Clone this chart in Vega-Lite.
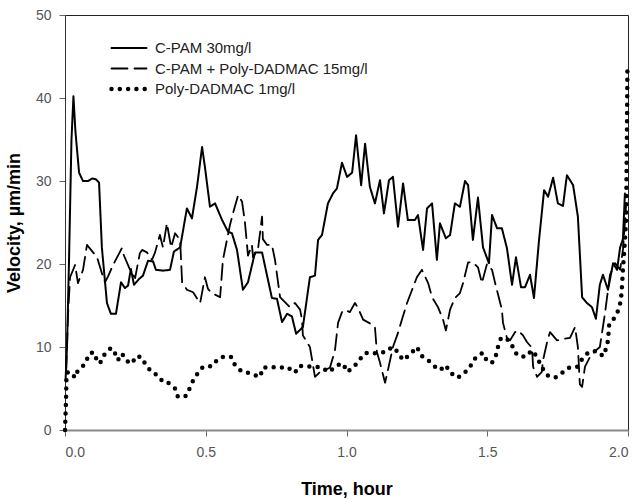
{
  "$schema": "https://vega.github.io/schema/vega-lite/v6.json",
  "width": 563,
  "height": 415,
  "autosize": {"type": "none"},
  "padding": {"left": 65, "top": 15, "right": 10, "bottom": 72},
  "background": "white",
  "config": {
    "view": {"stroke": "#222", "strokeWidth": 1},
    "font": "Liberation Sans",
    "axis": {
      "grid": false,
      "labelFont": "Liberation Sans",
      "labelFontSize": 14,
      "labelColor": "#555",
      "tickColor": "#666",
      "tickSize": 6,
      "titleFont": "Liberation Sans",
      "titleFontSize": 18,
      "titleFontWeight": "bold",
      "titleColor": "#000"
    }
  },
  "datasets": {
    "curves": [
      {"series": "C-PAM 30mg/l", "t": 0.002, "v": 6},
      {"series": "C-PAM 30mg/l", "t": 0.007, "v": 10},
      {"series": "C-PAM 30mg/l", "t": 0.014, "v": 20},
      {"series": "C-PAM 30mg/l", "t": 0.023, "v": 35},
      {"series": "C-PAM 30mg/l", "t": 0.030, "v": 40.2},
      {"series": "C-PAM 30mg/l", "t": 0.037, "v": 36},
      {"series": "C-PAM 30mg/l", "t": 0.050, "v": 31},
      {"series": "C-PAM 30mg/l", "t": 0.064, "v": 30},
      {"series": "C-PAM 30mg/l", "t": 0.082, "v": 30},
      {"series": "C-PAM 30mg/l", "t": 0.096, "v": 30.3},
      {"series": "C-PAM 30mg/l", "t": 0.110, "v": 30.2},
      {"series": "C-PAM 30mg/l", "t": 0.121, "v": 29.8},
      {"series": "C-PAM 30mg/l", "t": 0.131, "v": 22},
      {"series": "C-PAM 30mg/l", "t": 0.149, "v": 15.3},
      {"series": "C-PAM 30mg/l", "t": 0.163, "v": 14},
      {"series": "C-PAM 30mg/l", "t": 0.181, "v": 14},
      {"series": "C-PAM 30mg/l", "t": 0.199, "v": 17.8},
      {"series": "C-PAM 30mg/l", "t": 0.213, "v": 17.1},
      {"series": "C-PAM 30mg/l", "t": 0.224, "v": 17.4},
      {"series": "C-PAM 30mg/l", "t": 0.234, "v": 19.4},
      {"series": "C-PAM 30mg/l", "t": 0.245, "v": 17.5},
      {"series": "C-PAM 30mg/l", "t": 0.263, "v": 18.2},
      {"series": "C-PAM 30mg/l", "t": 0.277, "v": 18.6},
      {"series": "C-PAM 30mg/l", "t": 0.295, "v": 20.4},
      {"series": "C-PAM 30mg/l", "t": 0.313, "v": 20.3},
      {"series": "C-PAM 30mg/l", "t": 0.323, "v": 19.3},
      {"series": "C-PAM 30mg/l", "t": 0.348, "v": 19.2},
      {"series": "C-PAM 30mg/l", "t": 0.373, "v": 19.3},
      {"series": "C-PAM 30mg/l", "t": 0.387, "v": 21.5},
      {"series": "C-PAM 30mg/l", "t": 0.409, "v": 22},
      {"series": "C-PAM 30mg/l", "t": 0.433, "v": 26.7},
      {"series": "C-PAM 30mg/l", "t": 0.451, "v": 25.5},
      {"series": "C-PAM 30mg/l", "t": 0.469, "v": 29.3},
      {"series": "C-PAM 30mg/l", "t": 0.487, "v": 34.1},
      {"series": "C-PAM 30mg/l", "t": 0.497, "v": 31.7},
      {"series": "C-PAM 30mg/l", "t": 0.515, "v": 26.9},
      {"series": "C-PAM 30mg/l", "t": 0.533, "v": 27.3},
      {"series": "C-PAM 30mg/l", "t": 0.558, "v": 25.3},
      {"series": "C-PAM 30mg/l", "t": 0.579, "v": 23.9},
      {"series": "C-PAM 30mg/l", "t": 0.593, "v": 23.7},
      {"series": "C-PAM 30mg/l", "t": 0.611, "v": 21.7},
      {"series": "C-PAM 30mg/l", "t": 0.632, "v": 16.9},
      {"series": "C-PAM 30mg/l", "t": 0.650, "v": 17.8},
      {"series": "C-PAM 30mg/l", "t": 0.675, "v": 21.4},
      {"series": "C-PAM 30mg/l", "t": 0.700, "v": 21.4},
      {"series": "C-PAM 30mg/l", "t": 0.735, "v": 15.9},
      {"series": "C-PAM 30mg/l", "t": 0.753, "v": 15.8},
      {"series": "C-PAM 30mg/l", "t": 0.771, "v": 13.0},
      {"series": "C-PAM 30mg/l", "t": 0.789, "v": 14.0},
      {"series": "C-PAM 30mg/l", "t": 0.806, "v": 13.7},
      {"series": "C-PAM 30mg/l", "t": 0.821, "v": 11.6},
      {"series": "C-PAM 30mg/l", "t": 0.845, "v": 12.4},
      {"series": "C-PAM 30mg/l", "t": 0.870, "v": 18.4},
      {"series": "C-PAM 30mg/l", "t": 0.888, "v": 18.6},
      {"series": "C-PAM 30mg/l", "t": 0.899, "v": 22.9},
      {"series": "C-PAM 30mg/l", "t": 0.913, "v": 23.5},
      {"series": "C-PAM 30mg/l", "t": 0.934, "v": 27.3},
      {"series": "C-PAM 30mg/l", "t": 0.952, "v": 28.5},
      {"series": "C-PAM 30mg/l", "t": 0.966, "v": 29.1},
      {"series": "C-PAM 30mg/l", "t": 0.984, "v": 32.2},
      {"series": "C-PAM 30mg/l", "t": 1.002, "v": 30.5},
      {"series": "C-PAM 30mg/l", "t": 1.020, "v": 31.0},
      {"series": "C-PAM 30mg/l", "t": 1.034, "v": 35.5},
      {"series": "C-PAM 30mg/l", "t": 1.052, "v": 29.5},
      {"series": "C-PAM 30mg/l", "t": 1.066, "v": 34.5},
      {"series": "C-PAM 30mg/l", "t": 1.083, "v": 29.3},
      {"series": "C-PAM 30mg/l", "t": 1.101, "v": 27.3},
      {"series": "C-PAM 30mg/l", "t": 1.119, "v": 30.1},
      {"series": "C-PAM 30mg/l", "t": 1.133, "v": 26.1},
      {"series": "C-PAM 30mg/l", "t": 1.151, "v": 30.1},
      {"series": "C-PAM 30mg/l", "t": 1.165, "v": 30.5},
      {"series": "C-PAM 30mg/l", "t": 1.183, "v": 24.5},
      {"series": "C-PAM 30mg/l", "t": 1.201, "v": 29.7},
      {"series": "C-PAM 30mg/l", "t": 1.218, "v": 25.3},
      {"series": "C-PAM 30mg/l", "t": 1.243, "v": 25.3},
      {"series": "C-PAM 30mg/l", "t": 1.254, "v": 25.9},
      {"series": "C-PAM 30mg/l", "t": 1.272, "v": 21.7},
      {"series": "C-PAM 30mg/l", "t": 1.286, "v": 26.7},
      {"series": "C-PAM 30mg/l", "t": 1.304, "v": 27.3},
      {"series": "C-PAM 30mg/l", "t": 1.321, "v": 20.5},
      {"series": "C-PAM 30mg/l", "t": 1.332, "v": 24.9},
      {"series": "C-PAM 30mg/l", "t": 1.353, "v": 23.1},
      {"series": "C-PAM 30mg/l", "t": 1.368, "v": 23.5},
      {"series": "C-PAM 30mg/l", "t": 1.385, "v": 27.3},
      {"series": "C-PAM 30mg/l", "t": 1.403, "v": 26.9},
      {"series": "C-PAM 30mg/l", "t": 1.421, "v": 30.0},
      {"series": "C-PAM 30mg/l", "t": 1.432, "v": 29.5},
      {"series": "C-PAM 30mg/l", "t": 1.449, "v": 22.9},
      {"series": "C-PAM 30mg/l", "t": 1.467, "v": 28.0},
      {"series": "C-PAM 30mg/l", "t": 1.485, "v": 22.0},
      {"series": "C-PAM 30mg/l", "t": 1.506, "v": 20.1},
      {"series": "C-PAM 30mg/l", "t": 1.517, "v": 25.9},
      {"series": "C-PAM 30mg/l", "t": 1.535, "v": 24.3},
      {"series": "C-PAM 30mg/l", "t": 1.552, "v": 24.3},
      {"series": "C-PAM 30mg/l", "t": 1.570, "v": 21.9},
      {"series": "C-PAM 30mg/l", "t": 1.588, "v": 17.5},
      {"series": "C-PAM 30mg/l", "t": 1.602, "v": 20.8},
      {"series": "C-PAM 30mg/l", "t": 1.620, "v": 17.2},
      {"series": "C-PAM 30mg/l", "t": 1.634, "v": 17.2},
      {"series": "C-PAM 30mg/l", "t": 1.652, "v": 18.7},
      {"series": "C-PAM 30mg/l", "t": 1.666, "v": 15.9},
      {"series": "C-PAM 30mg/l", "t": 1.684, "v": 22.9},
      {"series": "C-PAM 30mg/l", "t": 1.702, "v": 28.9},
      {"series": "C-PAM 30mg/l", "t": 1.716, "v": 28.1},
      {"series": "C-PAM 30mg/l", "t": 1.734, "v": 30.4},
      {"series": "C-PAM 30mg/l", "t": 1.751, "v": 27.3},
      {"series": "C-PAM 30mg/l", "t": 1.769, "v": 27.0},
      {"series": "C-PAM 30mg/l", "t": 1.783, "v": 30.7},
      {"series": "C-PAM 30mg/l", "t": 1.805, "v": 29.5},
      {"series": "C-PAM 30mg/l", "t": 1.822, "v": 25.7},
      {"series": "C-PAM 30mg/l", "t": 1.837, "v": 16.0},
      {"series": "C-PAM 30mg/l", "t": 1.854, "v": 15.3},
      {"series": "C-PAM 30mg/l", "t": 1.872, "v": 14.8},
      {"series": "C-PAM 30mg/l", "t": 1.886, "v": 13.4},
      {"series": "C-PAM 30mg/l", "t": 1.900, "v": 17.5},
      {"series": "C-PAM 30mg/l", "t": 1.911, "v": 18.7},
      {"series": "C-PAM 30mg/l", "t": 1.929, "v": 16.9},
      {"series": "C-PAM 30mg/l", "t": 1.947, "v": 20.1},
      {"series": "C-PAM 30mg/l", "t": 1.961, "v": 19.3},
      {"series": "C-PAM 30mg/l", "t": 1.972, "v": 22.0},
      {"series": "C-PAM 30mg/l", "t": 1.982, "v": 23.0},
      {"series": "C-PAM 30mg/l", "t": 1.989, "v": 28.5},

      {"series": "C-PAM + Poly-DADMAC 15mg/l", "t": 0.004, "v": 7},
      {"series": "C-PAM + Poly-DADMAC 15mg/l", "t": 0.011, "v": 14},
      {"series": "C-PAM + Poly-DADMAC 15mg/l", "t": 0.018, "v": 18.4},
      {"series": "C-PAM + Poly-DADMAC 15mg/l", "t": 0.036, "v": 19.9},
      {"series": "C-PAM + Poly-DADMAC 15mg/l", "t": 0.046, "v": 17.7},
      {"series": "C-PAM + Poly-DADMAC 15mg/l", "t": 0.064, "v": 19.3},
      {"series": "C-PAM + Poly-DADMAC 15mg/l", "t": 0.078, "v": 22.3},
      {"series": "C-PAM + Poly-DADMAC 15mg/l", "t": 0.114, "v": 20.8},
      {"series": "C-PAM + Poly-DADMAC 15mg/l", "t": 0.131, "v": 18.9},
      {"series": "C-PAM + Poly-DADMAC 15mg/l", "t": 0.142, "v": 17.8},
      {"series": "C-PAM + Poly-DADMAC 15mg/l", "t": 0.153, "v": 18.5},
      {"series": "C-PAM + Poly-DADMAC 15mg/l", "t": 0.171, "v": 19.9},
      {"series": "C-PAM + Poly-DADMAC 15mg/l", "t": 0.202, "v": 21.9},
      {"series": "C-PAM + Poly-DADMAC 15mg/l", "t": 0.206, "v": 21.3},
      {"series": "C-PAM + Poly-DADMAC 15mg/l", "t": 0.231, "v": 19.3},
      {"series": "C-PAM + Poly-DADMAC 15mg/l", "t": 0.249, "v": 18.3},
      {"series": "C-PAM + Poly-DADMAC 15mg/l", "t": 0.266, "v": 21.3},
      {"series": "C-PAM + Poly-DADMAC 15mg/l", "t": 0.274, "v": 21.7},
      {"series": "C-PAM + Poly-DADMAC 15mg/l", "t": 0.291, "v": 21.4},
      {"series": "C-PAM + Poly-DADMAC 15mg/l", "t": 0.309, "v": 20.5},
      {"series": "C-PAM + Poly-DADMAC 15mg/l", "t": 0.320, "v": 21.4},
      {"series": "C-PAM + Poly-DADMAC 15mg/l", "t": 0.337, "v": 23.5},
      {"series": "C-PAM + Poly-DADMAC 15mg/l", "t": 0.348, "v": 22.0},
      {"series": "C-PAM + Poly-DADMAC 15mg/l", "t": 0.362, "v": 24.9},
      {"series": "C-PAM + Poly-DADMAC 15mg/l", "t": 0.377, "v": 22.0},
      {"series": "C-PAM + Poly-DADMAC 15mg/l", "t": 0.391, "v": 23.7},
      {"series": "C-PAM + Poly-DADMAC 15mg/l", "t": 0.409, "v": 22.9},
      {"series": "C-PAM + Poly-DADMAC 15mg/l", "t": 0.416, "v": 17.8},
      {"series": "C-PAM + Poly-DADMAC 15mg/l", "t": 0.433, "v": 16.9},
      {"series": "C-PAM + Poly-DADMAC 15mg/l", "t": 0.455, "v": 16.6},
      {"series": "C-PAM + Poly-DADMAC 15mg/l", "t": 0.480, "v": 15.3},
      {"series": "C-PAM + Poly-DADMAC 15mg/l", "t": 0.497, "v": 18.4},
      {"series": "C-PAM + Poly-DADMAC 15mg/l", "t": 0.508, "v": 17.0},
      {"series": "C-PAM + Poly-DADMAC 15mg/l", "t": 0.522, "v": 16.5},
      {"series": "C-PAM + Poly-DADMAC 15mg/l", "t": 0.551, "v": 16.0},
      {"series": "C-PAM + Poly-DADMAC 15mg/l", "t": 0.561, "v": 20.5},
      {"series": "C-PAM + Poly-DADMAC 15mg/l", "t": 0.586, "v": 24.7},
      {"series": "C-PAM + Poly-DADMAC 15mg/l", "t": 0.600, "v": 26.5},
      {"series": "C-PAM + Poly-DADMAC 15mg/l", "t": 0.615, "v": 28.3},
      {"series": "C-PAM + Poly-DADMAC 15mg/l", "t": 0.629, "v": 27.5},
      {"series": "C-PAM + Poly-DADMAC 15mg/l", "t": 0.639, "v": 25.1},
      {"series": "C-PAM + Poly-DADMAC 15mg/l", "t": 0.650, "v": 21.0},
      {"series": "C-PAM + Poly-DADMAC 15mg/l", "t": 0.664, "v": 22.3},
      {"series": "C-PAM + Poly-DADMAC 15mg/l", "t": 0.668, "v": 20.8},
      {"series": "C-PAM + Poly-DADMAC 15mg/l", "t": 0.686, "v": 21.9},
      {"series": "C-PAM + Poly-DADMAC 15mg/l", "t": 0.700, "v": 25.7},
      {"series": "C-PAM + Poly-DADMAC 15mg/l", "t": 0.703, "v": 23.0},
      {"series": "C-PAM + Poly-DADMAC 15mg/l", "t": 0.718, "v": 22.3},
      {"series": "C-PAM + Poly-DADMAC 15mg/l", "t": 0.735, "v": 22.3},
      {"series": "C-PAM + Poly-DADMAC 15mg/l", "t": 0.746, "v": 20.5},
      {"series": "C-PAM + Poly-DADMAC 15mg/l", "t": 0.764, "v": 16.0},
      {"series": "C-PAM + Poly-DADMAC 15mg/l", "t": 0.799, "v": 14.8},
      {"series": "C-PAM + Poly-DADMAC 15mg/l", "t": 0.817, "v": 15.3},
      {"series": "C-PAM + Poly-DADMAC 15mg/l", "t": 0.835, "v": 14.5},
      {"series": "C-PAM + Poly-DADMAC 15mg/l", "t": 0.842, "v": 13.3},
      {"series": "C-PAM + Poly-DADMAC 15mg/l", "t": 0.845, "v": 11.4},
      {"series": "C-PAM + Poly-DADMAC 15mg/l", "t": 0.870, "v": 10.0},
      {"series": "C-PAM + Poly-DADMAC 15mg/l", "t": 0.888, "v": 6.4},
      {"series": "C-PAM + Poly-DADMAC 15mg/l", "t": 0.906, "v": 7.0},
      {"series": "C-PAM + Poly-DADMAC 15mg/l", "t": 0.941, "v": 7.5},
      {"series": "C-PAM + Poly-DADMAC 15mg/l", "t": 0.959, "v": 9.6},
      {"series": "C-PAM + Poly-DADMAC 15mg/l", "t": 0.970, "v": 12.9},
      {"series": "C-PAM + Poly-DADMAC 15mg/l", "t": 0.984, "v": 14.2},
      {"series": "C-PAM + Poly-DADMAC 15mg/l", "t": 0.995, "v": 14.5},
      {"series": "C-PAM + Poly-DADMAC 15mg/l", "t": 1.012, "v": 14.2},
      {"series": "C-PAM + Poly-DADMAC 15mg/l", "t": 1.030, "v": 15.3},
      {"series": "C-PAM + Poly-DADMAC 15mg/l", "t": 1.041, "v": 14.7},
      {"series": "C-PAM + Poly-DADMAC 15mg/l", "t": 1.059, "v": 13.3},
      {"series": "C-PAM + Poly-DADMAC 15mg/l", "t": 1.091, "v": 12.7},
      {"series": "C-PAM + Poly-DADMAC 15mg/l", "t": 1.101, "v": 12.4},
      {"series": "C-PAM + Poly-DADMAC 15mg/l", "t": 1.108, "v": 9.4},
      {"series": "C-PAM + Poly-DADMAC 15mg/l", "t": 1.119, "v": 8.1},
      {"series": "C-PAM + Poly-DADMAC 15mg/l", "t": 1.137, "v": 5.7},
      {"series": "C-PAM + Poly-DADMAC 15mg/l", "t": 1.147, "v": 7.2},
      {"series": "C-PAM + Poly-DADMAC 15mg/l", "t": 1.165, "v": 10.0},
      {"series": "C-PAM + Poly-DADMAC 15mg/l", "t": 1.183, "v": 11.7},
      {"series": "C-PAM + Poly-DADMAC 15mg/l", "t": 1.197, "v": 13.3},
      {"series": "C-PAM + Poly-DADMAC 15mg/l", "t": 1.215, "v": 15.3},
      {"series": "C-PAM + Poly-DADMAC 15mg/l", "t": 1.233, "v": 16.9},
      {"series": "C-PAM + Poly-DADMAC 15mg/l", "t": 1.250, "v": 18.4},
      {"series": "C-PAM + Poly-DADMAC 15mg/l", "t": 1.268, "v": 19.3},
      {"series": "C-PAM + Poly-DADMAC 15mg/l", "t": 1.290, "v": 17.7},
      {"series": "C-PAM + Poly-DADMAC 15mg/l", "t": 1.304, "v": 16.0},
      {"series": "C-PAM + Poly-DADMAC 15mg/l", "t": 1.325, "v": 14.8},
      {"series": "C-PAM + Poly-DADMAC 15mg/l", "t": 1.343, "v": 13.3},
      {"series": "C-PAM + Poly-DADMAC 15mg/l", "t": 1.353, "v": 12.0},
      {"series": "C-PAM + Poly-DADMAC 15mg/l", "t": 1.368, "v": 14.5},
      {"series": "C-PAM + Poly-DADMAC 15mg/l", "t": 1.385, "v": 15.9},
      {"series": "C-PAM + Poly-DADMAC 15mg/l", "t": 1.403, "v": 16.5},
      {"series": "C-PAM + Poly-DADMAC 15mg/l", "t": 1.414, "v": 17.7},
      {"series": "C-PAM + Poly-DADMAC 15mg/l", "t": 1.432, "v": 20.2},
      {"series": "C-PAM + Poly-DADMAC 15mg/l", "t": 1.449, "v": 20.2},
      {"series": "C-PAM + Poly-DADMAC 15mg/l", "t": 1.467, "v": 19.6},
      {"series": "C-PAM + Poly-DADMAC 15mg/l", "t": 1.481, "v": 17.7},
      {"series": "C-PAM + Poly-DADMAC 15mg/l", "t": 1.499, "v": 20.0},
      {"series": "C-PAM + Poly-DADMAC 15mg/l", "t": 1.517, "v": 19.3},
      {"series": "C-PAM + Poly-DADMAC 15mg/l", "t": 1.528, "v": 17.7},
      {"series": "C-PAM + Poly-DADMAC 15mg/l", "t": 1.552, "v": 14.5},
      {"series": "C-PAM + Poly-DADMAC 15mg/l", "t": 1.556, "v": 12.9},
      {"series": "C-PAM + Poly-DADMAC 15mg/l", "t": 1.570, "v": 11.1},
      {"series": "C-PAM + Poly-DADMAC 15mg/l", "t": 1.581, "v": 10.8},
      {"series": "C-PAM + Poly-DADMAC 15mg/l", "t": 1.599, "v": 11.8},
      {"series": "C-PAM + Poly-DADMAC 15mg/l", "t": 1.609, "v": 12.0},
      {"series": "C-PAM + Poly-DADMAC 15mg/l", "t": 1.627, "v": 11.4},
      {"series": "C-PAM + Poly-DADMAC 15mg/l", "t": 1.641, "v": 10.6},
      {"series": "C-PAM + Poly-DADMAC 15mg/l", "t": 1.659, "v": 9.9},
      {"series": "C-PAM + Poly-DADMAC 15mg/l", "t": 1.663, "v": 7.6},
      {"series": "C-PAM + Poly-DADMAC 15mg/l", "t": 1.677, "v": 6.4},
      {"series": "C-PAM + Poly-DADMAC 15mg/l", "t": 1.694, "v": 7.0},
      {"series": "C-PAM + Poly-DADMAC 15mg/l", "t": 1.698, "v": 8.4},
      {"series": "C-PAM + Poly-DADMAC 15mg/l", "t": 1.712, "v": 10.5},
      {"series": "C-PAM + Poly-DADMAC 15mg/l", "t": 1.723, "v": 11.8},
      {"series": "C-PAM + Poly-DADMAC 15mg/l", "t": 1.748, "v": 10.8},
      {"series": "C-PAM + Poly-DADMAC 15mg/l", "t": 1.776, "v": 11.0},
      {"series": "C-PAM + Poly-DADMAC 15mg/l", "t": 1.794, "v": 11.1},
      {"series": "C-PAM + Poly-DADMAC 15mg/l", "t": 1.812, "v": 12.4},
      {"series": "C-PAM + Poly-DADMAC 15mg/l", "t": 1.822, "v": 10.0},
      {"series": "C-PAM + Poly-DADMAC 15mg/l", "t": 1.829, "v": 5.5},
      {"series": "C-PAM + Poly-DADMAC 15mg/l", "t": 1.837, "v": 5.2},
      {"series": "C-PAM + Poly-DADMAC 15mg/l", "t": 1.847, "v": 7.6},
      {"series": "C-PAM + Poly-DADMAC 15mg/l", "t": 1.865, "v": 8.8},
      {"series": "C-PAM + Poly-DADMAC 15mg/l", "t": 1.883, "v": 9.5},
      {"series": "C-PAM + Poly-DADMAC 15mg/l", "t": 1.900, "v": 10.0},
      {"series": "C-PAM + Poly-DADMAC 15mg/l", "t": 1.918, "v": 14.0},
      {"series": "C-PAM + Poly-DADMAC 15mg/l", "t": 1.936, "v": 18.7},
      {"series": "C-PAM + Poly-DADMAC 15mg/l", "t": 1.954, "v": 20.1},
      {"series": "C-PAM + Poly-DADMAC 15mg/l", "t": 1.972, "v": 19.3},
      {"series": "C-PAM + Poly-DADMAC 15mg/l", "t": 1.982, "v": 21.7},
      {"series": "C-PAM + Poly-DADMAC 15mg/l", "t": 1.993, "v": 27.0},

      {"series": "Poly-DADMAC 1mg/l", "t": 0.000, "v": 0},
      {"series": "Poly-DADMAC 1mg/l", "t": 0.002, "v": 2},
      {"series": "Poly-DADMAC 1mg/l", "t": 0.004, "v": 4},
      {"series": "Poly-DADMAC 1mg/l", "t": 0.005, "v": 6},
      {"series": "Poly-DADMAC 1mg/l", "t": 0.007, "v": 6.9},
      {"series": "Poly-DADMAC 1mg/l", "t": 0.018, "v": 7.0},
      {"series": "Poly-DADMAC 1mg/l", "t": 0.036, "v": 6.3},
      {"series": "Poly-DADMAC 1mg/l", "t": 0.043, "v": 7.0},
      {"series": "Poly-DADMAC 1mg/l", "t": 0.060, "v": 7.6},
      {"series": "Poly-DADMAC 1mg/l", "t": 0.075, "v": 8.1},
      {"series": "Poly-DADMAC 1mg/l", "t": 0.082, "v": 9.0},
      {"series": "Poly-DADMAC 1mg/l", "t": 0.099, "v": 9.4},
      {"series": "Poly-DADMAC 1mg/l", "t": 0.114, "v": 8.4},
      {"series": "Poly-DADMAC 1mg/l", "t": 0.124, "v": 8.0},
      {"series": "Poly-DADMAC 1mg/l", "t": 0.135, "v": 8.9},
      {"series": "Poly-DADMAC 1mg/l", "t": 0.163, "v": 9.9},
      {"series": "Poly-DADMAC 1mg/l", "t": 0.178, "v": 9.2},
      {"series": "Poly-DADMAC 1mg/l", "t": 0.188, "v": 8.4},
      {"series": "Poly-DADMAC 1mg/l", "t": 0.202, "v": 9.2},
      {"series": "Poly-DADMAC 1mg/l", "t": 0.224, "v": 8.2},
      {"series": "Poly-DADMAC 1mg/l", "t": 0.238, "v": 8.0},
      {"series": "Poly-DADMAC 1mg/l", "t": 0.252, "v": 8.9},
      {"series": "Poly-DADMAC 1mg/l", "t": 0.270, "v": 8.8},
      {"series": "Poly-DADMAC 1mg/l", "t": 0.288, "v": 7.8},
      {"series": "Poly-DADMAC 1mg/l", "t": 0.309, "v": 6.9},
      {"series": "Poly-DADMAC 1mg/l", "t": 0.330, "v": 6.6},
      {"series": "Poly-DADMAC 1mg/l", "t": 0.348, "v": 5.8},
      {"series": "Poly-DADMAC 1mg/l", "t": 0.366, "v": 5.7},
      {"series": "Poly-DADMAC 1mg/l", "t": 0.391, "v": 5.0},
      {"series": "Poly-DADMAC 1mg/l", "t": 0.401, "v": 4.0},
      {"series": "Poly-DADMAC 1mg/l", "t": 0.430, "v": 4.1},
      {"series": "Poly-DADMAC 1mg/l", "t": 0.440, "v": 4.8},
      {"series": "Poly-DADMAC 1mg/l", "t": 0.451, "v": 5.7},
      {"series": "Poly-DADMAC 1mg/l", "t": 0.469, "v": 6.7},
      {"series": "Poly-DADMAC 1mg/l", "t": 0.490, "v": 7.6},
      {"series": "Poly-DADMAC 1mg/l", "t": 0.522, "v": 7.7},
      {"series": "Poly-DADMAC 1mg/l", "t": 0.544, "v": 8.6},
      {"series": "Poly-DADMAC 1mg/l", "t": 0.568, "v": 8.9},
      {"series": "Poly-DADMAC 1mg/l", "t": 0.590, "v": 8.8},
      {"series": "Poly-DADMAC 1mg/l", "t": 0.604, "v": 7.8},
      {"series": "Poly-DADMAC 1mg/l", "t": 0.629, "v": 7.0},
      {"series": "Poly-DADMAC 1mg/l", "t": 0.650, "v": 6.9},
      {"series": "Poly-DADMAC 1mg/l", "t": 0.675, "v": 6.6},
      {"series": "Poly-DADMAC 1mg/l", "t": 0.693, "v": 6.4},
      {"series": "Poly-DADMAC 1mg/l", "t": 0.703, "v": 7.5},
      {"series": "Poly-DADMAC 1mg/l", "t": 0.732, "v": 7.6},
      {"series": "Poly-DADMAC 1mg/l", "t": 0.760, "v": 7.5},
      {"series": "Poly-DADMAC 1mg/l", "t": 0.789, "v": 7.6},
      {"series": "Poly-DADMAC 1mg/l", "t": 0.817, "v": 6.9},
      {"series": "Poly-DADMAC 1mg/l", "t": 0.831, "v": 7.7},
      {"series": "Poly-DADMAC 1mg/l", "t": 0.856, "v": 7.7},
      {"series": "Poly-DADMAC 1mg/l", "t": 0.881, "v": 7.6},
      {"series": "Poly-DADMAC 1mg/l", "t": 0.906, "v": 7.6},
      {"series": "Poly-DADMAC 1mg/l", "t": 0.938, "v": 7.0},
      {"series": "Poly-DADMAC 1mg/l", "t": 0.966, "v": 7.8},
      {"series": "Poly-DADMAC 1mg/l", "t": 0.988, "v": 8.0},
      {"series": "Poly-DADMAC 1mg/l", "t": 1.002, "v": 7.0},
      {"series": "Poly-DADMAC 1mg/l", "t": 1.027, "v": 7.6},
      {"series": "Poly-DADMAC 1mg/l", "t": 1.044, "v": 8.4},
      {"series": "Poly-DADMAC 1mg/l", "t": 1.069, "v": 9.3},
      {"series": "Poly-DADMAC 1mg/l", "t": 1.091, "v": 9.2},
      {"series": "Poly-DADMAC 1mg/l", "t": 1.115, "v": 9.3},
      {"series": "Poly-DADMAC 1mg/l", "t": 1.140, "v": 9.4},
      {"series": "Poly-DADMAC 1mg/l", "t": 1.162, "v": 10.0},
      {"series": "Poly-DADMAC 1mg/l", "t": 1.179, "v": 9.5},
      {"series": "Poly-DADMAC 1mg/l", "t": 1.201, "v": 8.4},
      {"series": "Poly-DADMAC 1mg/l", "t": 1.229, "v": 9.2},
      {"series": "Poly-DADMAC 1mg/l", "t": 1.250, "v": 10.0},
      {"series": "Poly-DADMAC 1mg/l", "t": 1.268, "v": 8.9},
      {"series": "Poly-DADMAC 1mg/l", "t": 1.290, "v": 8.4},
      {"series": "Poly-DADMAC 1mg/l", "t": 1.311, "v": 7.7},
      {"series": "Poly-DADMAC 1mg/l", "t": 1.332, "v": 7.2},
      {"series": "Poly-DADMAC 1mg/l", "t": 1.353, "v": 7.8},
      {"series": "Poly-DADMAC 1mg/l", "t": 1.368, "v": 6.9},
      {"series": "Poly-DADMAC 1mg/l", "t": 1.396, "v": 6.3},
      {"series": "Poly-DADMAC 1mg/l", "t": 1.414, "v": 6.9},
      {"series": "Poly-DADMAC 1mg/l", "t": 1.428, "v": 7.1},
      {"series": "Poly-DADMAC 1mg/l", "t": 1.442, "v": 7.8},
      {"series": "Poly-DADMAC 1mg/l", "t": 1.460, "v": 8.8},
      {"series": "Poly-DADMAC 1mg/l", "t": 1.485, "v": 9.3},
      {"series": "Poly-DADMAC 1mg/l", "t": 1.499, "v": 8.3},
      {"series": "Poly-DADMAC 1mg/l", "t": 1.517, "v": 8.1},
      {"series": "Poly-DADMAC 1mg/l", "t": 1.535, "v": 9.3},
      {"series": "Poly-DADMAC 1mg/l", "t": 1.538, "v": 10.0},
      {"series": "Poly-DADMAC 1mg/l", "t": 1.549, "v": 11.1},
      {"series": "Poly-DADMAC 1mg/l", "t": 1.560, "v": 11.1},
      {"series": "Poly-DADMAC 1mg/l", "t": 1.577, "v": 10.8},
      {"series": "Poly-DADMAC 1mg/l", "t": 1.591, "v": 10.0},
      {"series": "Poly-DADMAC 1mg/l", "t": 1.606, "v": 9.0},
      {"series": "Poly-DADMAC 1mg/l", "t": 1.634, "v": 8.8},
      {"series": "Poly-DADMAC 1mg/l", "t": 1.659, "v": 9.6},
      {"series": "Poly-DADMAC 1mg/l", "t": 1.677, "v": 8.8},
      {"series": "Poly-DADMAC 1mg/l", "t": 1.691, "v": 7.7},
      {"series": "Poly-DADMAC 1mg/l", "t": 1.712, "v": 6.6},
      {"series": "Poly-DADMAC 1mg/l", "t": 1.741, "v": 6.3},
      {"series": "Poly-DADMAC 1mg/l", "t": 1.766, "v": 6.9},
      {"series": "Poly-DADMAC 1mg/l", "t": 1.787, "v": 7.5},
      {"series": "Poly-DADMAC 1mg/l", "t": 1.819, "v": 7.6},
      {"series": "Poly-DADMAC 1mg/l", "t": 1.840, "v": 8.7},
      {"series": "Poly-DADMAC 1mg/l", "t": 1.861, "v": 9.4},
      {"series": "Poly-DADMAC 1mg/l", "t": 1.890, "v": 9.5},
      {"series": "Poly-DADMAC 1mg/l", "t": 1.911, "v": 8.9},
      {"series": "Poly-DADMAC 1mg/l", "t": 1.922, "v": 9.8},
      {"series": "Poly-DADMAC 1mg/l", "t": 1.929, "v": 10.8},
      {"series": "Poly-DADMAC 1mg/l", "t": 1.933, "v": 12.7},
      {"series": "Poly-DADMAC 1mg/l", "t": 1.954, "v": 13.6},
      {"series": "Poly-DADMAC 1mg/l", "t": 1.968, "v": 14.6},
      {"series": "Poly-DADMAC 1mg/l", "t": 1.975, "v": 15.7},
      {"series": "Poly-DADMAC 1mg/l", "t": 1.979, "v": 17.5},
      {"series": "Poly-DADMAC 1mg/l", "t": 1.982, "v": 19.3},
      {"series": "Poly-DADMAC 1mg/l", "t": 1.986, "v": 21.3},
      {"series": "Poly-DADMAC 1mg/l", "t": 1.993, "v": 25.0},
      {"series": "Poly-DADMAC 1mg/l", "t": 1.996, "v": 35.0},
      {"series": "Poly-DADMAC 1mg/l", "t": 1.998, "v": 44.0}
    ]
  },
  "data": {"name": "curves"},
  "mark": {"type": "line", "color": "#000", "strokeCap": "round", "strokeJoin": "round", "clip": false},
  "encoding": {
    "x": {
      "field": "t", "type": "quantitative",
      "scale": {"domain": [0, 2], "nice": false, "zero": false},
      "axis": {
        "title": "Time, hour",
        "values": [0, 0.5, 1, 1.5, 2],
        "format": ".1f",
        "domainColor": "#888",
        "domainWidth": 2,
        "labelPadding": 9,
        "titlePadding": 21
      }
    },
    "y": {
      "field": "v", "type": "quantitative",
      "scale": {"domain": [0, 50], "nice": false},
      "axis": {
        "title": "Velocity, µm/min",
        "values": [0, 10, 20, 30, 40, 50],
        "format": "d",
        "domainColor": "#333",
        "domainWidth": 1,
        "labelPadding": 8,
        "titlePadding": 12
      }
    },
    "strokeDash": {
      "field": "series", "type": "nominal",
      "scale": {
        "domain": ["C-PAM 30mg/l", "C-PAM + Poly-DADMAC 15mg/l", "Poly-DADMAC 1mg/l"],
        "range": [[1, 0], [16, 7], [0, 8.3]]
      },
      "legend": {
        "title": null,
        "orient": "none",
        "legendX": 44,
        "legendY": 24,
        "padding": 0,
        "symbolType": "stroke",
        "symbolSize": 1225,
        "symbolStrokeColor": "#000",
        "clipHeight": 18,
        "rowPadding": 2.5,
        "labelOffset": 6,
        "labelFont": "Liberation Sans",
        "labelFontSize": 15,
        "labelColor": "#222",
        "labelLimit": 400,
        "encode": {"symbols": {"update": {"strokeCap": {"value": "round"}}}}
      }
    },
    "strokeWidth": {
      "field": "series", "type": "nominal",
      "scale": {
        "type": "ordinal",
        "domain": ["C-PAM 30mg/l", "C-PAM + Poly-DADMAC 15mg/l", "Poly-DADMAC 1mg/l"],
        "range": [2, 1.8, 4.5]
      },
      "legend": null
    }
  }
}
